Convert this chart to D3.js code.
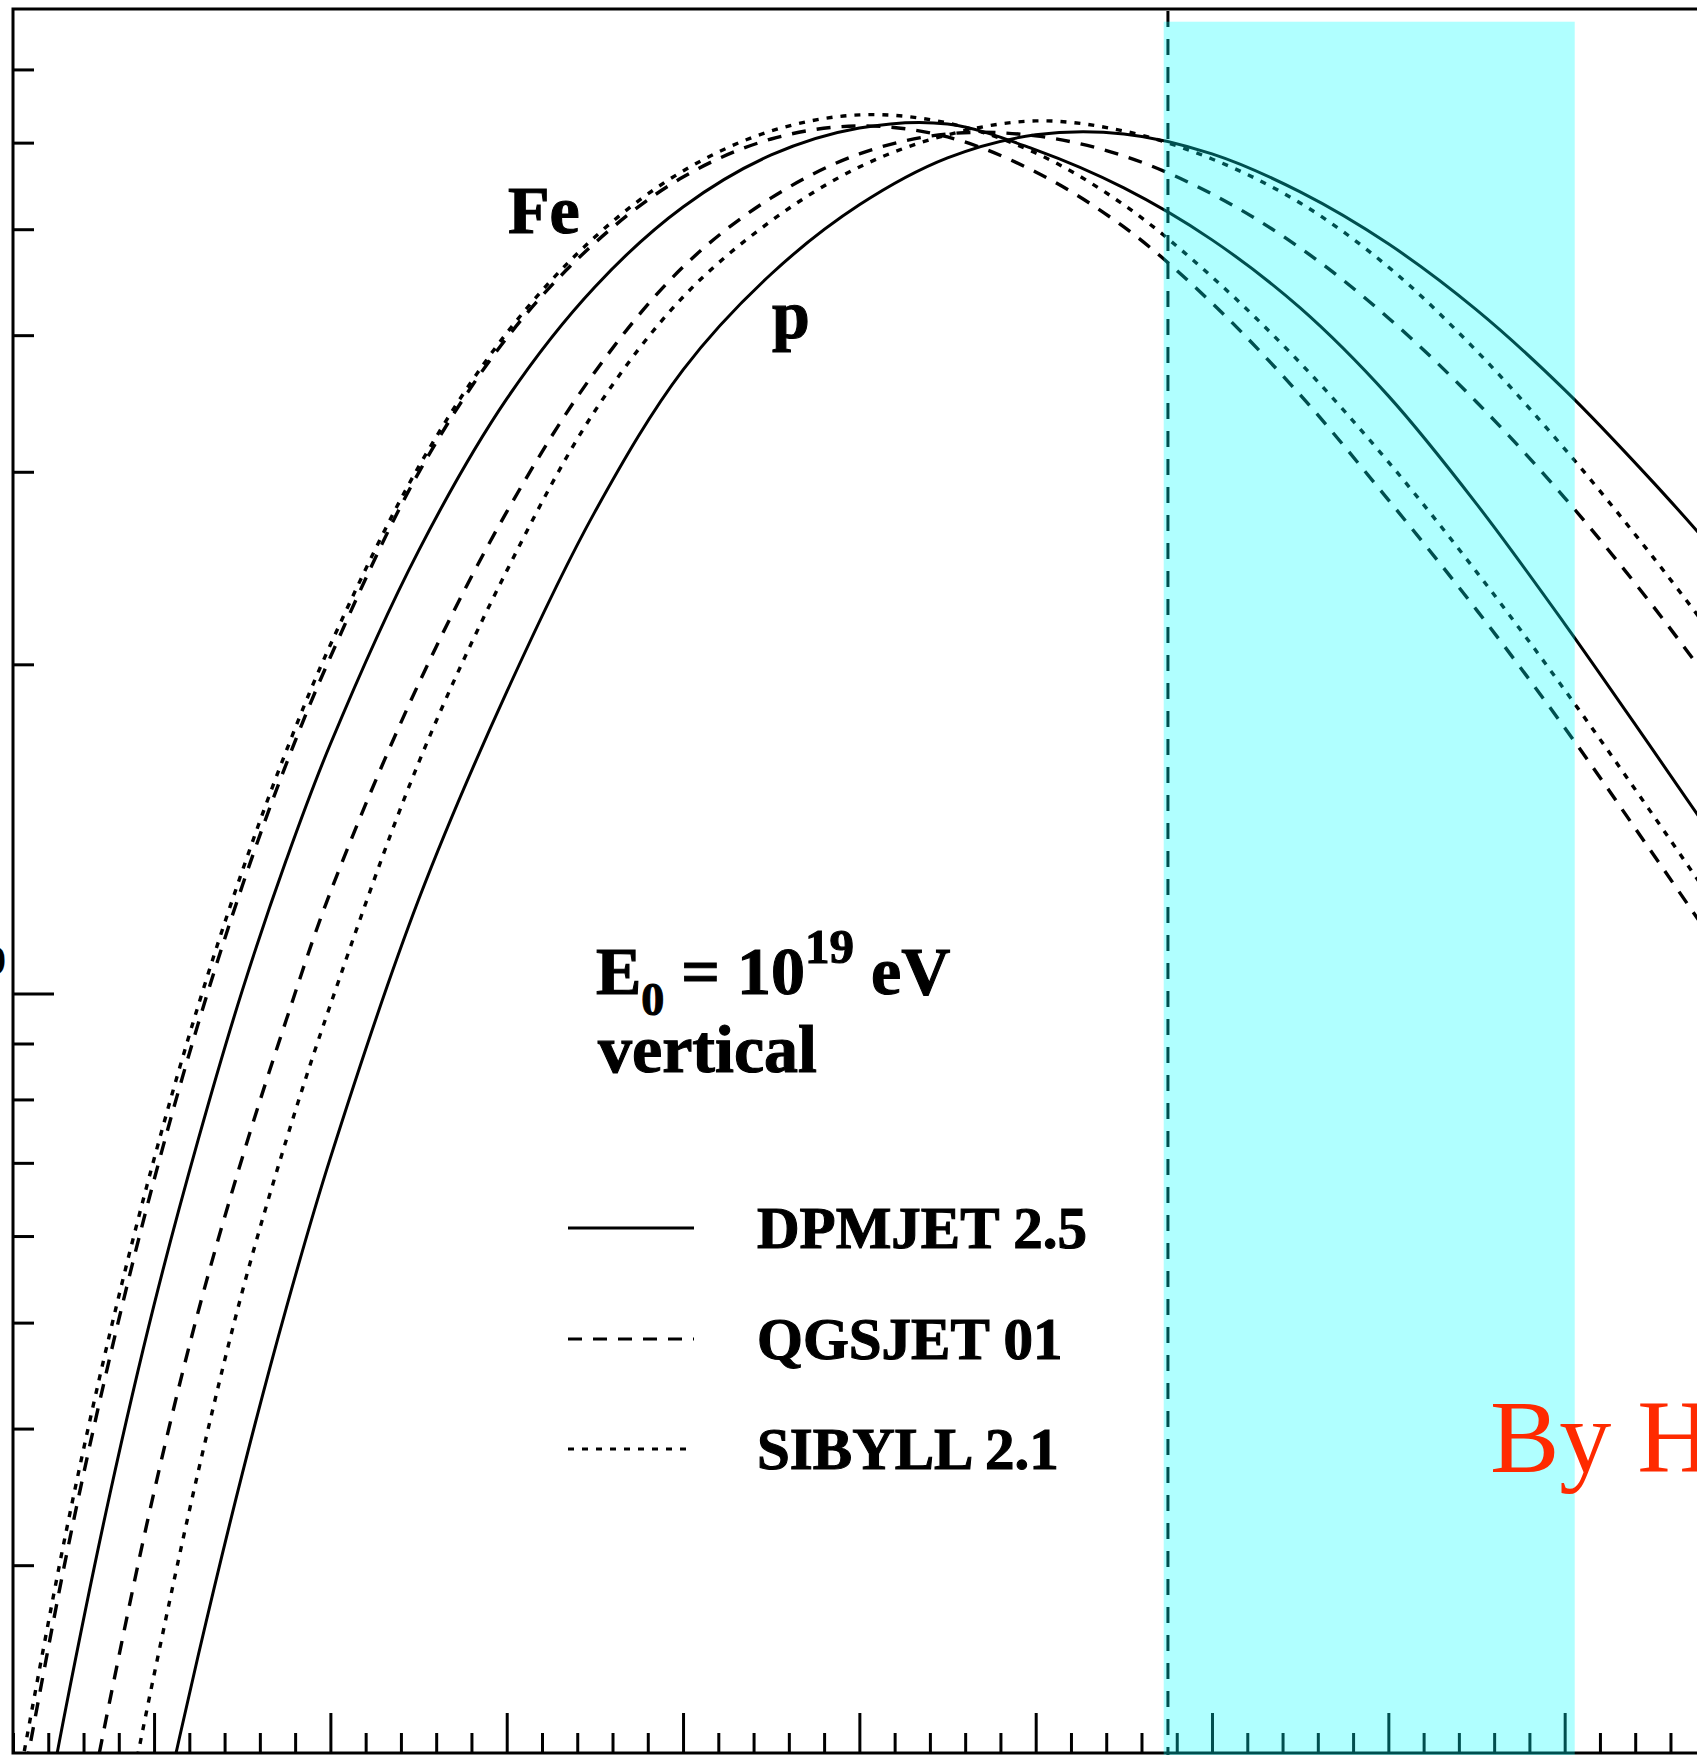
<!DOCTYPE html>
<html>
<head>
<meta charset="utf-8">
<script src="https://cdn.jsdelivr.net/npm/d3@7"></script>
<style>
  html, body { margin: 0; padding: 0; background: #ffffff; }
  svg { display: block; }
</style>
</head>
<body>
<svg id="chart" width="1697" height="1755"></svg>
<script>
// Vertical atmospheric depth grid, g/cm^2
const depth = [225, 250, 275, 300, 325, 350, 375, 400, 450, 500, 550, 600, 650, 700, 750, 800, 850, 900, 950, 1000, 1050, 1100, 1150, 1200];

// Shower size (number of charged particles, in units of 10^9); null = below the plotted range
const feDPMJET = [0.1349, 0.2222, 0.3487, 0.519, 0.7346, 1.006, 1.325, 1.691, 2.540, 3.498, 4.428, 5.240, 5.846, 6.188, 6.240, 5.909, 5.454, 4.889, 4.236, 3.520, 2.804, 2.178, 1.670, 1.276];
const feQGSJET = [0.1869, 0.3047, 0.4653, 0.6753, 0.938, 1.254, 1.622, 2.031, 2.993, 3.976, 4.858, 5.581, 6.046, 6.215, 6.072, 5.640, 5.024, 4.280, 3.527, 2.828, 2.243, 1.750, 1.342, 1.025];
const feSIBYLL = [0.1971, 0.3212, 0.4893, 0.7057, 0.9743, 1.294, 1.667, 2.084, 3.031, 4.018, 4.919, 5.653, 6.149, 6.361, 6.253, 5.871, 5.263, 4.522, 3.773, 3.063, 2.430, 1.895, 1.457, 1.112];
const pDPMJET  = [null, null, null, 0.1641, 0.2479, 0.3636, 0.5158, 0.7073, 1.218, 1.887, 2.757, 3.718, 4.550, 5.263, 5.810, 6.099, 6.111, 5.859, 5.408, 4.848, 4.219, 3.565, 2.937, 2.384];
const pQGSJET  = [null, 0.1407, 0.2259, 0.3501, 0.5114, 0.7073, 0.946, 1.238, 1.919, 2.757, 3.702, 4.618, 5.341, 5.859, 6.111, 6.086, 5.834, 5.385, 4.806, 4.148, 3.475, 2.840, 2.262, 1.764];
const pSIBYLL  = [null, null, 0.1498, 0.2381, 0.3651, 0.5335, 0.7346, 0.9763, 1.625, 2.435, 3.410, 4.335, 5.088, 5.700, 6.099, 6.281, 6.149, 5.797, 5.284, 4.618, 3.870, 3.148, 2.508, 1.964];

// Interaction models shown in the legend
const models = ["DPMJET 2.5", "QGSJET 01", "SIBYLL 2.1"];

// Axis ticks
const xMajorTicks = [300, 400, 500, 600, 700, 800, 900, 1000, 1100, 1200];
const xMinorTicks = [220, 240, 260, 280, 320, 340, 360, 380, 420, 440, 460, 480, 520, 540, 560, 580,
                     620, 640, 660, 680, 720, 740, 760, 780, 820, 840, 860, 880, 920, 940, 960, 980,
                     1020, 1040, 1060, 1080, 1120, 1140, 1160, 1180];
const yMajorTicks = [1];
const yMinorTicks = [0.2, 0.3, 0.4, 0.5, 0.6, 0.7, 0.8, 0.9, 2, 3, 4, 5, 6, 7];

// Ground level of the observatory and the shaded depth window
const groundDepth = 875;
const bandDepth = [872.6, 1105.7];
const bandTop = 7.74;

// ---------------------------------------------------------------
const svg = d3.select("#chart");
const W = 1697, H = 1755;
const plot = { left: 13, top: 9, right: 1741, bottom: 1753 };
const serif = "'Liberation Serif', 'Times New Roman', serif";

const x = d3.scaleLinear().domain([220, 1200]).range([plot.left, plot.right]);
const y = d3.scaleLog().domain([0.202, 7.95]).range([plot.bottom, plot.top]);

const dashFor = {
  "DPMJET 2.5": null,
  "QGSJET 01": "14,11",
  "SIBYLL 2.1": "6,8"
};

const series = [
  { primary: "Fe", model: models[0], values: feDPMJET },
  { primary: "Fe", model: models[1], values: feQGSJET },
  { primary: "Fe", model: models[2], values: feSIBYLL },
  { primary: "p",  model: models[0], values: pDPMJET },
  { primary: "p",  model: models[1], values: pQGSJET },
  { primary: "p",  model: models[2], values: pSIBYLL }
];

svg.append("rect").attr("width", W).attr("height", H).attr("fill", "#ffffff");

svg.append("defs").append("clipPath").attr("id", "plotClip")
  .append("rect")
  .attr("x", plot.left).attr("y", plot.top)
  .attr("width", plot.right - plot.left).attr("height", plot.bottom - plot.top);

// Frame
svg.append("rect")
  .attr("x", plot.left).attr("y", plot.top)
  .attr("width", plot.right - plot.left).attr("height", plot.bottom - plot.top)
  .attr("fill", "none").attr("stroke", "#000").attr("stroke-width", 3);

// Axis ticks (pointing into the plot)
function tickStyle(g) {
  g.select(".domain").remove();
  g.selectAll("line").attr("stroke", "#000").attr("stroke-width", 3);
}
svg.append("g").attr("transform", `translate(${plot.left},0)`)
  .call(d3.axisRight(y).tickValues(yMinorTicks).tickSize(21).tickFormat(""))
  .call(tickStyle);
svg.append("g").attr("transform", `translate(${plot.left},0)`)
  .call(d3.axisRight(y).tickValues(yMajorTicks).tickSize(41).tickFormat(""))
  .call(tickStyle);
svg.append("g").attr("transform", `translate(0,${plot.bottom})`)
  .call(d3.axisTop(x).tickValues(xMinorTicks).tickSize(20).tickFormat(""))
  .call(tickStyle);
svg.append("g").attr("transform", `translate(0,${plot.bottom})`)
  .call(d3.axisTop(x).tickValues(xMajorTicks).tickSize(40).tickFormat(""))
  .call(tickStyle);

// Tick label for 10^9 (to the left of the axis)
const yLab = svg.append("text")
  .attr("x", plot.left - 7)
  .attr("y", y(yMajorTicks[0]) + 20)
  .attr("text-anchor", "end")
  .attr("font-family", serif)
  .attr("font-weight", "bold")
  .attr("font-size", 62);
yLab.append("tspan").text("10");
yLab.append("tspan").attr("dy", -38).attr("font-size", 42).text("9");

// Shower profiles
const line = d3.line()
  .defined(d => d.n != null)
  .x(d => x(d.depth))
  .y(d => y(d.n))
  .curve(d3.curveCatmullRom.alpha(0.5));

const curves = svg.append("g").attr("clip-path", "url(#plotClip)");
series.forEach(s => {
  const pts = depth.map((dd, i) => ({ depth: dd, n: s.values[i] }));
  curves.append("path")
    .datum(pts)
    .attr("d", line)
    .attr("fill", "none")
    .attr("stroke", "#000")
    .attr("stroke-width", s.model === models[0] ? 3 : 3.4)
    .attr("stroke-dasharray", dashFor[s.model]);
});

// Ground level
svg.append("line")
  .attr("x1", x(groundDepth)).attr("x2", x(groundDepth))
  .attr("y1", plot.top + 2).attr("y2", H)
  .attr("stroke", "#000").attr("stroke-width", 3)
  .attr("stroke-dasharray", "16,12");

// Bold labels get a thin outline so the strokes read heavier
function heavy(sel) {
  return sel.attr("font-family", serif).attr("font-weight", "bold")
    .attr("fill", "#000").attr("stroke", "#000").attr("stroke-width", 1.1);
}

// Primary labels
heavy(svg.append("text").attr("x", 508).attr("y", 233).attr("font-size", 68)).text("Fe");
heavy(svg.append("text").attr("x", 772).attr("y", 338).attr("font-size", 68)).text("p");

// Energy / geometry note
const eText = heavy(svg.append("text").attr("x", 596).attr("y", 994).attr("font-size", 68));
eText.append("tspan").text("E");
eText.append("tspan").attr("dy", 21).attr("font-size", 46).text("0");
eText.append("tspan").attr("dy", -21).text(" = 10");
eText.append("tspan").attr("dy", -31).attr("font-size", 49).text("19");
eText.append("tspan").attr("dy", 31).text(" eV");
heavy(svg.append("text").attr("x", 598).attr("y", 1072).attr("font-size", 68)).text("vertical");

// Legend
const legendRows = [1228, 1339, 1449];
models.forEach((m, i) => {
  svg.append("line")
    .attr("x1", 568).attr("x2", 694)
    .attr("y1", legendRows[i]).attr("y2", legendRows[i])
    .attr("stroke", "#000").attr("stroke-width", 3)
    .attr("stroke-dasharray", dashFor[m]);
  heavy(svg.append("text")
    .attr("x", 757).attr("y", legendRows[i] + 20)
    .attr("font-size", 59))
    .text(m);
});

// Shaded depth window
svg.append("rect")
  .attr("x", x(bandDepth[0]))
  .attr("y", y(bandTop))
  .attr("width", x(bandDepth[1]) - x(bandDepth[0]))
  .attr("height", H - y(bandTop))
  .attr("fill", "#00ffff")
  .attr("fill-opacity", 0.31);

// Credit
svg.append("text").attr("x", 1490).attr("y", 1472)
  .attr("font-family", serif).attr("font-size", 104)
  .attr("fill", "#ff2a00")
  .text("By H");
</script>
</body>
</html>
